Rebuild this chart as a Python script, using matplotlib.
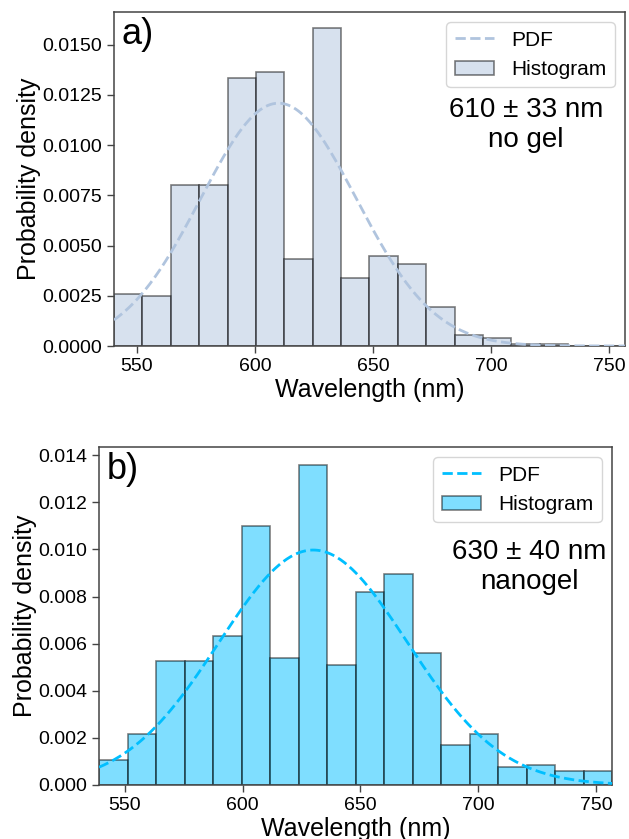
import numpy as np
import matplotlib
matplotlib.use("Agg")
import matplotlib.pyplot as plt
from matplotlib.lines import Line2D
from matplotlib.patches import Patch

plt.rcParams['font.family'] = ['Liberation Sans', 'DejaVu Sans']

# ---- data: panel a (no gel) ----
a_range = (540.3, 756.8)
a_density = [0.00258, 0.00250, 0.00804, 0.00804, 0.01332, 0.01363, 0.00432, 0.01582,
             0.00338, 0.00447, 0.00408, 0.00195, 0.00055, 0.00038, 0.00011, 0.00011,
             0.0, 0.0]
a_mean, a_std = 610, 33
a_text = "610 ± 33 nm\nno gel"

# ---- data: panel b (nanogel) ----
b_range = (539.1, 756.8)
b_density = [0.00105, 0.00215, 0.00526, 0.00526, 0.00631, 0.01098, 0.00541, 0.01360,
             0.00509, 0.00820, 0.00895, 0.00560, 0.00168, 0.00216, 0.00077, 0.00085,
             0.00059, 0.00059]
b_mean, b_std = 630, 40
b_text = "630 ± 40 nm\nnanogel"

xticks = [550, 600, 650, 700, 750]

fig = plt.figure(figsize=(6.29, 8.39), dpi=100)
ax1 = fig.add_axes([0.1812, 0.5876, 0.8124, 0.3981])
ax2 = fig.add_axes([0.1574, 0.0644, 0.8156, 0.4029])


def panel(ax, rng, dens, mean, std, color, label, txt, ylim, yticks, txt_xy):
    n = len(dens)
    edges = np.linspace(rng[0], rng[1], n + 1)
    face = matplotlib.colors.to_rgba(color, 0.5)
    edge = (0, 0, 0, 0.5)
    ax.bar(edges[:-1], dens, width=np.diff(edges), align='edge',
           facecolor=face, edgecolor=edge, linewidth=1.2, zorder=2)
    x = np.linspace(rng[0], rng[1], 400)
    pdf = np.exp(-0.5 * ((x - mean) / std) ** 2) / (std * np.sqrt(2 * np.pi))
    ax.plot(x, pdf, linestyle='--', color=color, linewidth=2, zorder=3)
    ax.set_xlim(rng)
    ax.set_ylim(ylim)
    ax.set_xticks(xticks)
    ax.set_yticks(yticks)
    ax.tick_params(labelsize=14, length=5, width=1, color='#444444')
    for s in ax.spines.values():
        s.set_color('#444444')
        s.set_linewidth(1.1)
    ax.set_xlabel("Wavelength (nm)", fontsize=18, labelpad=2)
    ax.set_ylabel("Probability density", fontsize=18, labelpad=1)
    handles = [Line2D([0], [0], linestyle='--', color=color, linewidth=2),
               Patch(facecolor=face, edgecolor=edge, linewidth=1.2)]
    ax.legend(handles, ["PDF", "Histogram"], loc='upper right', fontsize=15,
              handlelength=1.9, borderaxespad=0.5)
    ax.text(0.015, 0.985, label, transform=ax.transAxes, fontsize=26,
            ha='left', va='top')
    ax.text(txt_xy[0], txt_xy[1], txt, transform=ax.transAxes, fontsize=20,
            ha='center', va='top', linespacing=1.2)


panel(ax1, a_range, a_density, a_mean, a_std, 'lightsteelblue', 'a)', a_text,
      (0, 0.01663), [0, 0.0025, 0.005, 0.0075, 0.01, 0.0125, 0.015], (0.806, 0.745))
panel(ax2, b_range, b_density, b_mean, b_std, 'deepskyblue', 'b)', b_text,
      (0, 0.01435), [0, 0.002, 0.004, 0.006, 0.008, 0.010, 0.012, 0.014], (0.839, 0.728))

fig.savefig("out.png", dpi=100)
